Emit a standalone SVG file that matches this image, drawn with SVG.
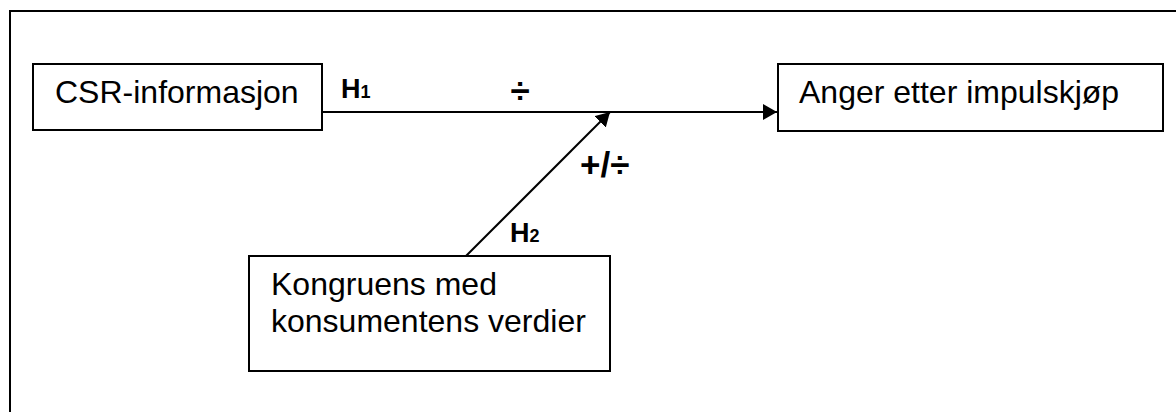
<svg xmlns="http://www.w3.org/2000/svg" width="1176" height="412" viewBox="0 0 1176 412">
  <style>
    .box { fill: #ffffff; stroke: #000000; stroke-width: 2; }
    .lbl { font-family: "Liberation Sans", Arial, sans-serif; font-size: 32px; fill: #000000; }
    .sign { font-family: "Liberation Sans", Arial, sans-serif; font-size: 35px; font-weight: bold; fill: #000000; }
    .hyp { font-family: "Liberation Sans", Arial, sans-serif; font-size: 27px; font-weight: bold; fill: #000000; }
    .sub { font-size: 18px; }
    .conn { stroke: #000000; stroke-width: 2; fill: none; }
  </style>
  <defs>
    <marker id="arrow" viewBox="0 0 14 16" refX="14" refY="8" markerWidth="14" markerHeight="16" markerUnits="userSpaceOnUse" orient="auto">
      <path d="M0,0 L14,8 L0,16 Z" fill="#000000"/>
    </marker>
  </defs>
  <rect width="1176" height="412" fill="#ffffff"/>

  <!-- frame: top and left edges -->
  <g id="frame" stroke="#000000" stroke-width="2" fill="none">
    <line x1="10" y1="11" x2="1176" y2="11"/>
    <line x1="10" y1="10" x2="10" y2="412"/>
  </g>

  <!-- connectors -->
  <g id="connectors">
    <line class="conn" x1="322" y1="112" x2="777" y2="112" marker-end="url(#arrow)"/>
    <line class="conn" x1="466" y1="256" x2="610" y2="112" marker-end="url(#arrow)"/>
    <text class="sign" x="520" y="103" text-anchor="middle">÷</text>
    <text class="sign" x="580" y="177">+/÷</text>
    <text class="hyp" x="341" y="98">H<tspan class="sub">1</tspan></text>
    <text class="hyp" x="510" y="242">H<tspan class="sub">2</tspan></text>
  </g>

  <g id="csr">
    <rect class="box" x="33" y="64" width="289" height="66"/>
    <text class="lbl" x="55" y="103">CSR-informasjon</text>
  </g>

  <g id="anger">
    <rect class="box" x="778" y="64" width="385" height="67"/>
    <text class="lbl" x="799" y="103">Anger etter impulskjøp</text>
  </g>

  <g id="kongruens">
    <rect class="box" x="249" y="256" width="361" height="115"/>
    <text class="lbl" x="271" y="295">Kongruens med</text>
    <text class="lbl" x="271" y="332">konsumentens verdier</text>
  </g>
</svg>
